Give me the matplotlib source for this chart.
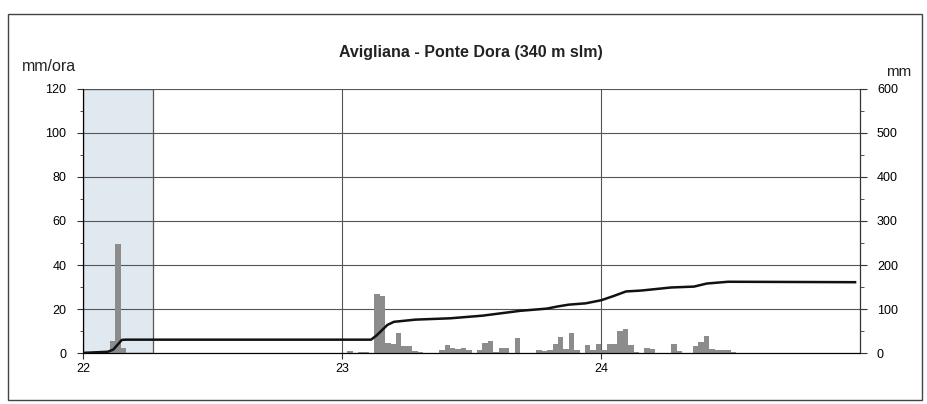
import numpy as np
import matplotlib
matplotlib.use("Agg")
from matplotlib import pyplot as plt
from matplotlib.patches import Rectangle

plt.rcParams['font.family'] = ['Liberation Sans Narrow', 'Liberation Sans', 'DejaVu Sans']

title = "Avigliana - Ponte Dora (340 m slm)"
day_labels = ["22", "23", "24"]

# half-hourly intensity (mm/ora), one list per day
day22 = [0, 0.5, 0, 0, 0.8, 5.5, 49.5, 2.1, 0, 0, 0, 0, 0, 0, 0, 0,
         0, 0, 0, 0, 0, 0, 0, 0, 0, 0, 0, 0, 0, 0, 0, 0,
         0, 0, 0, 0, 0, 0, 0, 0, 0, 0, 0, 0, 0, 0, 0, 0]
day23 = [0, 1, 0, 0.3, 0.3, 0, 27, 26, 4.5, 4, 9, 3, 3, 1, 0.3, 0,
         0, 0, 1.2, 3.5, 2.3, 1.7, 2.3, 1.2, 0, 1.5, 4.7, 5.6, 0.5, 2.3, 2.3, 0,
         6.8, 0, 0, 0, 1.2, 0.8, 1.3, 4.3, 7.3, 2, 9.1, 1.2, 0, 3.5, 1.2, 4.1]
day24 = [1.2, 4, 4, 9.9, 11.1, 3.5, 0.5, 0, 2.5, 2, 0, 0, 0, 4.3, 0.9, 0,
         0, 3, 5, 7.8, 2, 1.5, 1.2, 1.5, 0.3, 0.2, 0.2, 0, 0, 0, 0, 0,
         0, 0, 0, 0, 0, 0, 0, 0, 0, 0, 0, 0, 0, 0, 0, 0]

# cumulative rainfall (mm)
cum_day = [22.0, 22.096, 22.117, 22.150, 22.167, 23.112, 23.133, 23.154, 23.175,
           23.2, 23.283, 23.417, 23.542, 23.6875, 23.79, 23.833, 23.875, 23.94,
           24.0, 24.05, 24.096, 24.154, 24.27, 24.358, 24.408, 24.49, 24.98]
cum_mm = [0.5, 3, 8, 30, 30.5, 30.5, 40, 52, 64,
          71, 76, 79, 85, 96, 101, 106, 110, 113,
          120, 130, 140, 142, 149, 151, 158, 162, 161]

shade_end = 22.27

rain = np.array(day22 + day23 + day24)
t = 22 + np.arange(len(rain)) / 48.0

fig = plt.figure(figsize=(9.28, 4.04), dpi=100)
fig.patches.append(Rectangle((0.009, 0.01), 0.984, 0.955, transform=fig.transFigure,
                             fill=False, edgecolor='#444444', lw=1.0))

ax = fig.add_axes([0.0894, 0.126, 0.8376, 0.654])
ax.axvspan(22, shade_end, facecolor='#e0e8f0', edgecolor='#555555', lw=0.9, zorder=0)
ax.bar(t, rain, width=1 / 48.0, align='edge', color='#8c8c8c', edgecolor='none', zorder=2)

ax.set_xlim(22, 25)
ax.set_ylim(0, 120)
ax.set_yticks(np.arange(0, 121, 20))
ax.set_yticks(np.arange(0, 121, 10), minor=True)
ax.set_xticks([22, 23, 24])
ax.set_xticklabels(day_labels)
ax.grid(axis='y', color='#555555', lw=0.8)
ax.grid(axis='x', color='#555555', lw=0.8)
ax.set_axisbelow(True)
ax.tick_params(axis='y', which='major', length=4, labelsize=9, pad=8, color='#333333')
ax.tick_params(axis='y', which='minor', length=2, color='#333333')
ax.tick_params(axis='x', length=4, labelsize=9, pad=3, color='#333333')
ax.spines['top'].set_visible(False)
ax.spines['left'].set_color('#333333')
ax.spines['bottom'].set_color('#333333')

ax2 = ax.twinx()
ax2.plot(cum_day, cum_mm, color='#111111', lw=1.8, zorder=3)
ax2.set_ylim(0, 600)
ax2.set_yticks(np.arange(0, 601, 100))
ax2.set_yticks(np.arange(0, 601, 50), minor=True)
ax2.tick_params(axis='y', which='major', length=5, labelsize=9, pad=7, color='#333333')
ax2.tick_params(axis='y', which='minor', length=3, color='#333333')
ax2.spines['top'].set_visible(False)
ax2.spines['right'].set_color('#333333')

fig.text(0.507, 0.87, title, ha='center', va='center', fontsize=11.5, fontweight='bold', color='#222222')
fig.text(0.024, 0.835, "mm/ora", ha='left', va='center', fontsize=11.5, color='#222222')
fig.text(0.955, 0.822, "mm", ha='left', va='center', fontsize=11, color='#222222')

fig.savefig("out.png", dpi=100)
